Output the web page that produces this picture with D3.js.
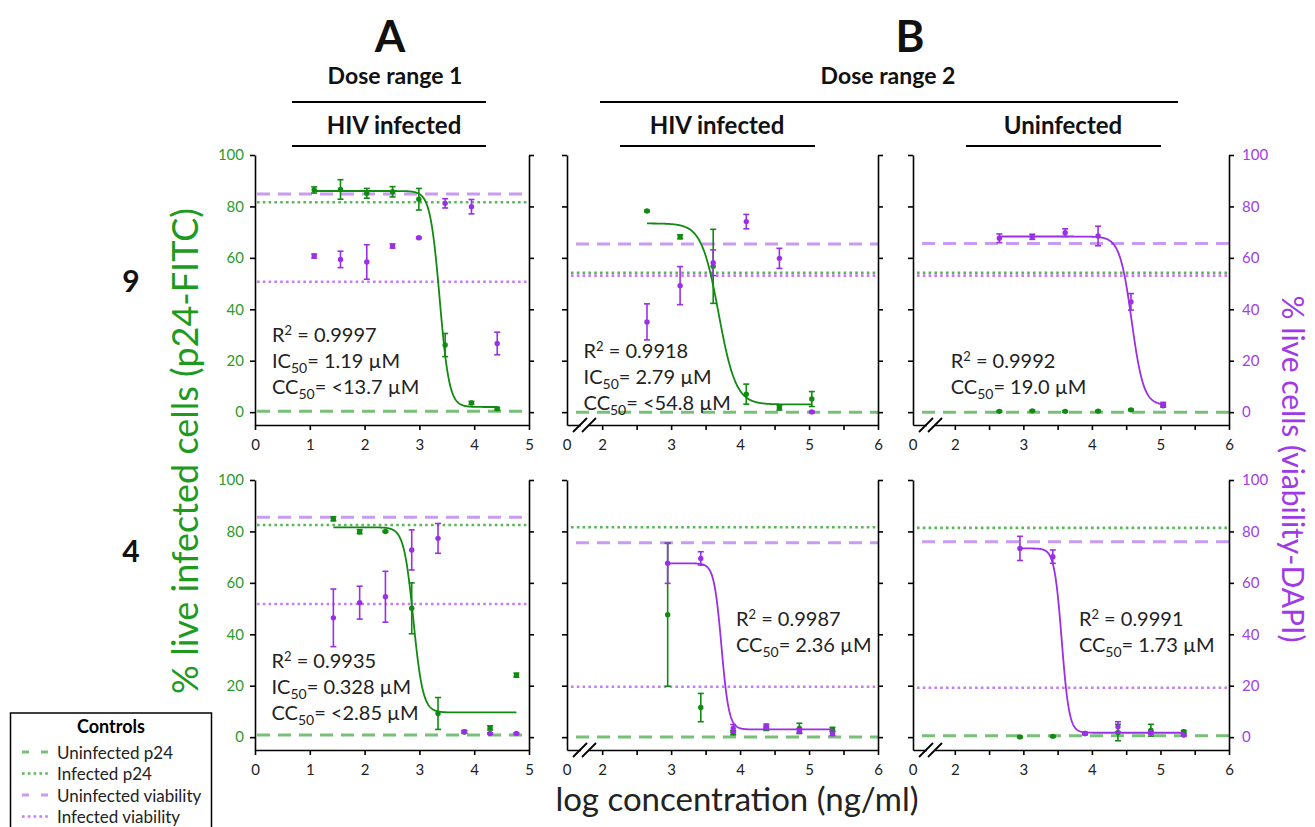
<!DOCTYPE html>
<html lang="en">
<head>
<meta charset="UTF-8">
<title>Dose response</title>
<script src="https://d3js.org/d3.v7.min.js"></script>
<style>
  body { margin: 0; background: #fff; font-family: Lato, "Open Sans", sans-serif; }
  .axis .domain, .axis .tick line { stroke: #000; stroke-width: 1.6; }
  .axis text { font-family: Lato, sans-serif; font-size: 15px; }
</style>
</head>
<body>
<svg id="chart" width="1315" height="827"></svg>
<script>
// log10 concentration (ng/ml) of each dose
const logConcA9 = [1.08, 1.56, 2.04, 2.51, 2.99, 3.47, 3.95, 4.42];
const logConcA4 = [1.43, 1.91, 2.38, 2.86, 3.34, 3.82, 4.29, 4.77];
const logConcB9 = [2.65, 3.13, 3.61, 4.09, 4.57, 5.04];
const logConcB4 = [2.95, 3.43, 3.90, 4.38, 4.86, 5.34];

// compound 9, dose range 1, HIV infected
const p24A9 = [86.4, 86.6, 85.1, 85.7, 82.8, 26.1, 3.6, 1.3];
const p24A9Err = [1.2, 3.8, 1.9, 2.0, 4.2, 4.5, 0.6, 0.5];
const viaA9 = [60.7, 59.4, 58.4, 64.6, 67.8, 81.2, 79.9, 26.7];
const viaA9Err = [0.8, 3.2, 6.7, 0.8, 0.3, 1.8, 2.8, 4.4];
// compound 9, dose range 2, HIV infected
const p24B9inf = [78.2, 68.2, 56.7, 7.0, 1.7, 5.1];
const p24B9infErr = [0.3, 0.8, 14.4, 3.9, 0.9, 2.9];
const viaB9inf = [35.1, 49.2, 58.1, 74.1, 59.8, 0.1];
const viaB9infErr = [7.0, 7.4, 5.0, 2.8, 3.9, 0.3];
// compound 9, dose range 2, uninfected
const p24B9uninf = [0.3, 0.5, 0.3, 0.4, 0.9, 2.5];
const p24B9uninfErr = [0.3, 0.3, 0.3, 0.3, 0.3, 0.5];
const viaB9uninf = [67.6, 68.2, 69.8, 68.5, 42.9, 3.0];
const viaB9uninfErr = [1.7, 1.0, 1.5, 3.8, 3.2, 0.8];
// compound 4, dose range 1, HIV infected
const p24A4 = [84.9, 79.9, 80.0, 50.1, 9.2, 2.0, 3.6, 24.1];
const p24A4Err = [0.8, 0.8, 0.3, 9.9, 6.2, 0.5, 0.8, 0.8];
const viaA4 = [46.4, 52.3, 54.6, 72.8, 77.3, 2.1, 1.4, 1.4];
const viaA4Err = [11.2, 6.4, 9.9, 7.8, 5.8, 0.5, 0.3, 0.3];
// compound 4, dose range 2, HIV infected
const p24B4inf = [47.6, 11.5, 1.7, 3.4, 3.4, 3.0];
const p24B4infErr = [27.8, 5.5, 0.8, 0.8, 2.0, 0.8];
const viaB4inf = [67.6, 69.5, 3.4, 4.3, 2.5, 1.4];
const viaB4infErr = [7.8, 2.6, 1.5, 0.8, 0.8, 0.8];
// compound 4, dose range 2, uninfected
const p24B4uninf = [0.1, 0.3, 1.4, 1.8, 2.7, 2.1];
const p24B4uninfErr = [0.3, 0.3, 0.3, 3.2, 2.3, 0.5];
const viaB4uninf = [73.4, 70.2, 1.4, 4.0, 1.7, 0.8];
const viaB4uninfErr = [4.7, 2.6, 0.5, 2.0, 0.5, 0.3];

// control levels per panel (A9, B9 inf, B9 uninf, A4, B4 inf, B4 uninf)
const ctrlUninfP24 = [0.3, 0.0, 0.0, 0.8, 0.1, 0.5];
const ctrlInfP24 = [81.6, 54.2, 54.2, 82.5, 81.6, 81.4];
const ctrlUninfVia = [84.8, 65.4, 65.6, 85.5, 75.6, 76.0];
const ctrlInfVia = [50.7, 53.1, 53.1, 51.8, 19.6, 19.2];

// four-parameter logistic fits per panel
const fitSeries = ["p24", "p24", "via", "p24", "via", "via"];
const fitTop = [86.0, 73.4, 68.3, 81.6, 67.6, 73.4];
const fitBottom = [2.0, 3.0, 2.7, 9.6, 3.0, 1.7];
const fitLogMid = [3.37, 3.69, 4.58, 2.89, 3.73, 3.56];
const fitHill = [5, 3.5, 5, 5, 8, 8];

// reported statistics per panel
const r2Text = ["0.9997", "0.9918", "0.9992", "0.9935", "0.9987", "0.9991"];
const ic50Text = ["1.19 \u00b5M", "2.79 \u00b5M", null, "0.328 \u00b5M", null, null];
const cc50Text = ["<13.7 \u00b5M", "<54.8 \u00b5M", "19.0 \u00b5M", "<2.85 \u00b5M", "2.36 \u00b5M", "1.73 \u00b5M"];

const yTicks = [0, 20, 40, 60, 80, 100];
const xTicksA = [0, 1, 2, 3, 4, 5];
const xTicksB = [2, 2.5, 3, 3.5, 4, 4.5, 5, 5.5, 6];

const svg = d3.select("#chart");
const green = "#118a11", purple = "#9a2fe6";
const greenText = "#2a9c2a", purpleText = "#a040e6";

// panel frames
const rows = [{top: 155, bottom: 425}, {top: 480, bottom: 750}];
const layout = [
    {row: 0, x0: 255, x1: 529, dom: [0, 5], brk: false, left: true, right: false},
    {row: 0, x0: 567, x1: 878, dom: [1.49, 6], brk: true, left: false, right: false},
    {row: 0, x0: 913, x1: 1229, dom: [1.39, 6], brk: true, left: false, right: true},
    {row: 1, x0: 255, x1: 529, dom: [0, 5], brk: false, left: true, right: false},
    {row: 1, x0: 567, x1: 878, dom: [1.49, 6], brk: true, left: false, right: false},
    {row: 1, x0: 913, x1: 1229, dom: [1.39, 6], brk: true, left: false, right: true}
];

const panels = [
    {x: logConcA9, p24: p24A9, p24e: p24A9Err, via: viaA9, viae: viaA9Err},
    {x: logConcB9, p24: p24B9inf, p24e: p24B9infErr, via: viaB9inf, viae: viaB9infErr},
    {x: logConcB9, p24: p24B9uninf, p24e: p24B9uninfErr, via: viaB9uninf, viae: viaB9uninfErr},
    {x: logConcA4, p24: p24A4, p24e: p24A4Err, via: viaA4, viae: viaA4Err},
    {x: logConcB4, p24: p24B4inf, p24e: p24B4infErr, via: viaB4inf, viae: viaB4infErr},
    {x: logConcB4, p24: p24B4uninf, p24e: p24B4uninfErr, via: viaB4uninf, viae: viaB4uninfErr}
];

// text position of the statistics block (data coords of first baseline)
const statX = [0.31, 1.73, 1.94, 0.30, 3.94, 3.81];
const statY = [27.4, 20.9, 17.0, 26.7, 43.2, 43.2];

function ctrlLine(g, x, y, L, val, color, dashed) {
    const start = L.x0 + (L.brk ? (dashed ? 9 : 4) : 2);
    g.append("line")
        .attr("x1", start).attr("x2", L.x1)
        .attr("y1", y(val)).attr("y2", y(val))
        .attr("stroke", color)
        .attr("stroke-width", dashed ? 3 : 2.6)
        .attr("stroke-dasharray", dashed ? "13,8" : "2.6,3.2");
}

function drawPoints(g, x, y, xs, vals, errs, color) {
    xs.forEach((xv, j) => {
        const cx = x(xv);
        const lo = y(vals[j] - errs[j]), hi = y(vals[j] + errs[j]);
        g.append("line").attr("x1", cx).attr("x2", cx).attr("y1", lo).attr("y2", hi)
            .attr("stroke", color).attr("stroke-width", 1.6);
        [lo, hi].forEach(yy => g.append("line")
            .attr("x1", cx - 3).attr("x2", cx + 3).attr("y1", yy).attr("y2", yy)
            .attr("stroke", color).attr("stroke-width", 1.6));
        g.append("circle").attr("cx", cx).attr("cy", y(vals[j])).attr("r", 2.7).attr("fill", color);
    });
}

function statLine(g, px, py, head, mark, sup, value) {
    const t = g.append("text").attr("x", px).attr("y", py)
        .attr("font-size", 20).attr("fill", "#222");
    t.append("tspan").text(head);
    if (sup) {
        t.append("tspan").attr("dy", -7).attr("font-size", 13).text(mark);
        t.append("tspan").attr("dy", 7).text(" = " + value);
    } else {
        t.append("tspan").attr("dy", 5).attr("font-size", 14).text(mark);
        t.append("tspan").attr("dy", -5).text("= " + value);
    }
}

panels.forEach((p, i) => {
    const L = layout[i];
    const R = rows[L.row];
    const x = d3.scaleLinear().domain(L.dom).range([L.x0, L.x1]);
    const y = d3.scaleLinear().domain([-5, 100]).range([R.bottom, R.top]);
    const g = svg.append("g");

    // controls
    ctrlLine(g, x, y, L, ctrlUninfP24[i], "#78c078", true);
    ctrlLine(g, x, y, L, ctrlInfP24[i], "#58b858", false);
    ctrlLine(g, x, y, L, ctrlUninfVia[i], "#c89cf2", true);
    ctrlLine(g, x, y, L, ctrlInfVia[i], "#c77cf0", false);

    // axes
    const ax = g.append("g").attr("class", "axis").attr("transform", `translate(0,${R.bottom})`)
        .call(d3.axisBottom(x)
            .tickValues(L.brk ? xTicksB : xTicksA)
            .tickFormat(d => Number.isInteger(d) ? d : "")
            .tickSize(5).tickPadding(9).tickSizeOuter(0));
    ax.selectAll("text").attr("fill", "#222");
    if (L.brk) {
        ax.append("text").attr("x", L.x0).attr("y", 14).attr("dy", "0.71em")
            .attr("text-anchor", "middle").attr("fill", "#222").text("0");
        g.append("rect").attr("x", L.x0 + 14).attr("y", R.bottom - 3).attr("width", 8).attr("height", 6)
            .attr("fill", "#fff");
        [13, 22].forEach(off => g.append("line")
            .attr("x1", L.x0 + off - 7).attr("y1", R.bottom + 7)
            .attr("x2", L.x0 + off + 7).attr("y2", R.bottom - 7)
            .attr("stroke", "#000").attr("stroke-width", 1.8));
    }
    const yl = g.append("g").attr("class", "axis").attr("transform", `translate(${L.x0},0)`)
        .call(d3.axisLeft(y).tickValues(yTicks).tickSize(5).tickPadding(6).tickSizeOuter(0)
            .tickFormat(L.left ? d3.format("d") : ""));
    yl.selectAll("text").attr("fill", greenText);
    const yr = g.append("g").attr("class", "axis").attr("transform", `translate(${L.x1},0)`)
        .call(d3.axisRight(y).tickValues(yTicks).tickSize(5).tickPadding(8).tickSizeOuter(0)
            .tickFormat(L.right ? d3.format("d") : ""));
    yr.selectAll("text").attr("fill", purpleText);

    // data
    drawPoints(g, x, y, p.x, p.p24, p.p24e, green);
    drawPoints(g, x, y, p.x, p.via, p.viae, purple);

    // fitted curve
    const xs = d3.range(p.x[0], p.x[p.x.length - 1] + 0.001, 0.005);
    const fit = xv => fitBottom[i] + (fitTop[i] - fitBottom[i]) / (1 + Math.pow(10, (xv - fitLogMid[i]) * fitHill[i]));
    g.append("path")
        .attr("d", d3.line().x(d => x(d)).y(d => y(fit(d)))(xs))
        .attr("fill", "none")
        .attr("stroke", fitSeries[i] === "p24" ? green : purple)
        .attr("stroke-width", 1.8);

    // statistics
    const sx = x(statX[i]);
    let sy = y(statY[i]);
    statLine(g, sx, sy, "R", "2", true, r2Text[i]);
    sy += 26;
    if (ic50Text[i]) {
        statLine(g, sx, sy, "IC", "50", false, ic50Text[i]);
        sy += 26;
    }
    statLine(g, sx, sy, "CC", "50", false, cc50Text[i]);
});

// headers
const bold = (txt, xp, yp, size) => svg.append("text").attr("x", xp).attr("y", yp)
    .attr("text-anchor", "middle").attr("font-weight", "bold").attr("font-size", size)
    .attr("fill", "#111").text(txt);
bold("A", 390, 52, 44);
bold("B", 910, 52, 44);
bold("Dose range 1", 395, 84, 23);
bold("Dose range 2", 888, 84, 23);
bold("HIV infected", 394, 134, 24);
bold("HIV infected", 717, 134, 24);
bold("Uninfected", 1063, 134, 24);
bold("9", 131, 292, 30);
bold("4", 131, 562, 30);
[[292, 486, 102], [600, 1178, 102], [292, 486, 146], [620, 815, 146], [966, 1161, 146]].forEach(s =>
    svg.append("line").attr("x1", s[0]).attr("x2", s[1]).attr("y1", s[2]).attr("y2", s[2])
        .attr("stroke", "#000").attr("stroke-width", 2));

// axis titles
svg.append("text").attr("transform", "translate(184,451) rotate(-90)")
    .attr("text-anchor", "middle").attr("dominant-baseline", "central")
    .attr("font-size", 36).attr("fill", "#1e9a1e").text("% live infected cells (p24-FITC)");
svg.append("text").attr("transform", "translate(1294,469) rotate(90)")
    .attr("text-anchor", "middle").attr("dominant-baseline", "central")
    .attr("font-size", 30).attr("fill", "#a03ae6").text("% live cells (viability-DAPI)");
svg.append("text").attr("x", 737).attr("y", 811).attr("text-anchor", "middle")
    .attr("font-size", 33).attr("fill", "#222").text("log concentration (ng/ml)");

// legend
const lg = svg.append("g");
lg.append("rect").attr("x", 10.5).attr("y", 713).attr("width", 201).attr("height", 130)
    .attr("fill", "#fff").attr("stroke", "#000").attr("stroke-width", 1.5);
lg.append("text").attr("x", 111).attr("y", 733).attr("text-anchor", "middle")
    .attr("font-weight", "bold").attr("font-size", 18).text("Controls");
const legendItems = [
    ["Uninfected p24", "#78c078", true],
    ["Infected p24", "#58b858", false],
    ["Uninfected viability", "#c89cf2", true],
    ["Infected viability", "#c77cf0", false]
];
legendItems.forEach((d, k) => {
    const ly = 752 + k * 21.5;
    lg.append("line").attr("x1", 22).attr("x2", 50).attr("y1", ly).attr("y2", ly)
        .attr("stroke", d[1]).attr("stroke-width", d[2] ? 3 : 2.6)
        .attr("stroke-dasharray", d[2] ? "7,12" : "2.6,3.2");
    lg.append("text").attr("x", 57).attr("y", ly).attr("dominant-baseline", "central")
        .attr("font-size", 17).attr("fill", "#222").text(d[0]);
});
</script>
</body>
</html>
